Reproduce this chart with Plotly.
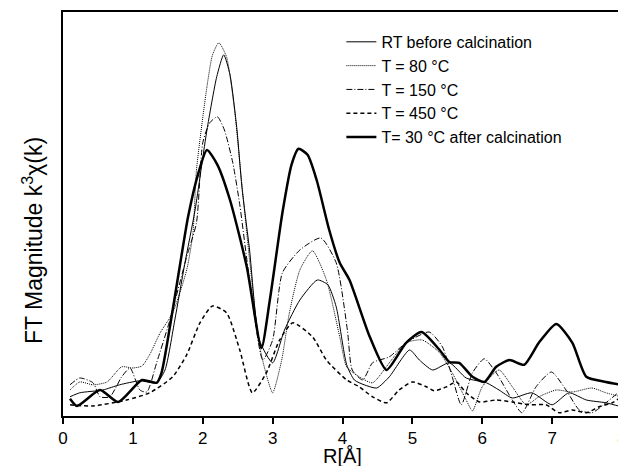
import plotly.graph_objects as go

# R in Angstrom, FT magnitude in arbitrary units
r_rt = [0.10, 0.24, 0.57, 0.81, 1.10, 1.34, 1.46, 1.60, 1.74, 1.89, 2.06, 2.20, 2.30, 2.39, 2.49, 2.56,
        2.67, 2.81, 3.00, 3.17, 3.39, 3.64, 3.79, 3.91, 4.06, 4.17, 4.31, 4.49, 4.67, 4.96, 5.10, 5.29,
        5.53, 5.77, 6.06, 6.24, 6.43, 6.71, 7.00, 7.24, 7.49, 7.77, 7.99]
ft_rt = [0.48, 0.58, 0.65, 0.78, 0.88, 0.83, 1.15, 2.40, 3.78, 5.15, 7.15, 8.48, 9.03, 8.53, 7.15, 5.73,
         4.15, 1.90, 1.33, 2.15, 2.90, 3.40, 3.28, 2.73, 1.28, 0.90, 0.78, 0.70, 0.98, 1.65, 1.40, 1.15,
         1.33, 0.95, 0.83, 0.65, 0.45, 0.58, 0.28, 0.58, 0.40, 0.33, 0.23]

r_80 = [0.10, 0.24, 0.43, 0.63, 0.84, 1.00, 1.13, 1.24, 1.39, 1.57, 1.77, 1.86, 1.91, 2.06, 2.14, 2.23,
        2.34, 2.46, 2.53, 2.67, 2.81, 2.91, 3.00, 3.13, 3.24, 3.39, 3.57, 3.77, 3.96, 4.06, 4.24, 4.43,
        4.67, 4.91, 5.14, 5.39, 5.57, 5.77, 5.86, 6.00, 6.24, 6.43, 6.63, 6.81, 7.06, 7.29, 7.57, 7.77, 7.99]
ft_80 = [0.65, 0.85, 0.78, 0.85, 1.23, 1.20, 1.25, 1.53, 2.08, 2.58, 3.65, 4.58, 6.15, 8.23, 9.03, 9.33,
         8.98, 7.58, 6.33, 3.90, 1.78, 1.03, 0.58, 1.40, 2.58, 3.65, 4.13, 3.40, 1.98, 1.23, 0.98, 0.83,
         1.33, 1.83, 1.90, 1.58, 1.08, 0.40, 0.13, 0.73, 1.15, 0.73, 0.28, 0.48, 0.65, 0.60, 0.70, 0.58, 0.48]

r_150 = [0.10, 0.24, 0.43, 0.53, 0.67, 0.84, 0.96, 1.10, 1.20, 1.34, 1.53, 1.77, 1.91, 2.00, 2.10, 2.21,
         2.31, 2.43, 2.53, 2.67, 2.86, 3.00, 3.14, 3.39, 3.69, 3.91, 4.07, 4.14, 4.29, 4.43, 4.67, 4.91,
         5.24, 5.43, 5.57, 5.70, 5.86, 6.03, 6.20, 6.43, 6.57, 6.77, 6.99, 7.20, 7.39, 7.57, 7.77, 7.99]
ft_150 = [0.78, 0.95, 0.83, 0.48, 0.48, 0.98, 1.20, 0.65, 0.60, 1.33, 2.40, 3.98, 4.83, 6.83, 7.33, 7.48,
          7.15, 6.33, 5.28, 3.40, 1.40, 1.90, 3.58, 4.15, 4.45, 3.83, 2.15, 1.15, 0.90, 1.33, 1.48, 1.83,
          2.10, 1.73, 0.98, 0.28, 1.08, 1.43, 1.08, 0.40, 0.08, 0.73, 1.10, 0.65, 0.15, 0.08, 0.33, 0.65]

r_450 = [0.10, 0.43, 0.91, 1.24, 1.57, 1.77, 1.96, 2.14, 2.34, 2.53, 2.71, 2.91, 3.10, 3.29, 3.57, 3.77,
         4.06, 4.24, 4.43, 4.63, 4.81, 5.00, 5.20, 5.31, 5.49, 5.63, 5.77, 5.96, 6.20, 6.43, 6.67, 6.91,
         7.10, 7.29, 7.49, 7.67, 7.86, 7.99]
ft_450 = [0.28, 0.25, 0.40, 0.58, 0.98, 1.53, 2.33, 2.75, 2.58, 1.65, 0.58, 1.08, 1.90, 2.33, 1.98, 1.40,
          0.90, 0.73, 0.48, 0.33, 0.65, 0.85, 0.73, 0.63, 0.73, 0.85, 0.58, 0.35, 0.40, 0.35, 0.28, 0.28,
          0.08, 0.15, 0.08, 0.23, 0.33, 0.48]

r_30 = [0.10, 0.20, 0.53, 0.79, 1.13, 1.34, 1.41, 1.53, 1.67, 1.79, 1.93, 2.06, 2.21, 2.39, 2.63, 2.84,
        2.96, 3.14, 3.27, 3.37, 3.50, 3.63, 3.81, 3.96, 4.10, 4.39, 4.63, 4.91, 5.13, 5.39, 5.53, 5.67,
        5.86, 6.03, 6.20, 6.39, 6.60, 6.81, 7.06, 7.29, 7.49, 7.77, 7.99]
ft_30 = [0.43, 0.25, 0.65, 0.35, 0.90, 0.83, 1.08, 2.23, 3.73, 4.98, 6.03, 6.65, 6.28, 5.40, 3.73, 1.70,
         2.90, 5.08, 6.28, 6.68, 6.53, 5.90, 4.65, 3.83, 3.40, 1.98, 1.15, 1.83, 2.10, 1.65, 1.35, 1.33,
         0.98, 0.85, 1.23, 1.40, 1.28, 1.83, 2.30, 1.83, 0.98, 0.85, 0.78]

series = [
    ("RT before calcination", r_rt, ft_rt, 1, "solid"),
    ("T = 80 °C", r_80, ft_80, 1, "1px,1px"),
    ("T = 150 °C", r_150, ft_150, 1, "6px,2px,1px,2px"),
    ("T = 450 °C", r_450, ft_450, 1.5, "4px,3px"),
    ("T= 30 °C after calcination", r_30, ft_30, 2.5, "solid"),
]

fig = go.Figure()
for name, x, y, w, dash in series:
    fig.add_trace(go.Scatter(
        x=x, y=y, name=name, mode="lines",
        line=dict(color="black", width=w, dash=dash, shape="spline", smoothing=0.6),
    ))

# page body has an 8px margin, so the figure is laid out 8px up/left of the target
fig.update_layout(
    width=626, height=466,
    margin=dict(l=55, r=12, t=4, b=58, autoexpand=False),
    plot_bgcolor="white", paper_bgcolor="white",
    font=dict(family="Liberation Sans, Arial, sans-serif", color="black"),
    showlegend=True,
    legend=dict(x=0.498, y=0.968, xanchor="left", yanchor="top",
                font=dict(size=16), bgcolor="rgba(0,0,0,0)", tracegroupgap=0),
    xaxis=dict(
        range=[0, 8], tickvals=[0, 1, 2, 3, 4, 5, 6, 7, 8],
        ticks="outside", ticklen=6, tickwidth=2, tickcolor="black",
        tickfont=dict(size=17), showgrid=False, zeroline=False,
        showline=True, linecolor="black", linewidth=2, mirror=True,
        automargin=False,
    ),
    yaxis=dict(
        range=[0, 10.1], showticklabels=False, ticks="", showgrid=False, zeroline=False,
        showline=True, linecolor="black", linewidth=2, mirror=True, automargin=False,
    ),
    annotations=[
        dict(text="FT Magnitude k<sup>3</sup>χ(k)", textangle=-90,
             xref="paper", yref="paper", x=-0.054, y=0.435,
             xanchor="center", yanchor="middle", showarrow=False,
             font=dict(size=23)),
        dict(text="R[Å]", xref="paper", yref="paper", x=0.5, y=-0.098,
             xanchor="center", yanchor="middle", showarrow=False,
             font=dict(size=20)),
    ],
)

fig.write_html("out.html")
